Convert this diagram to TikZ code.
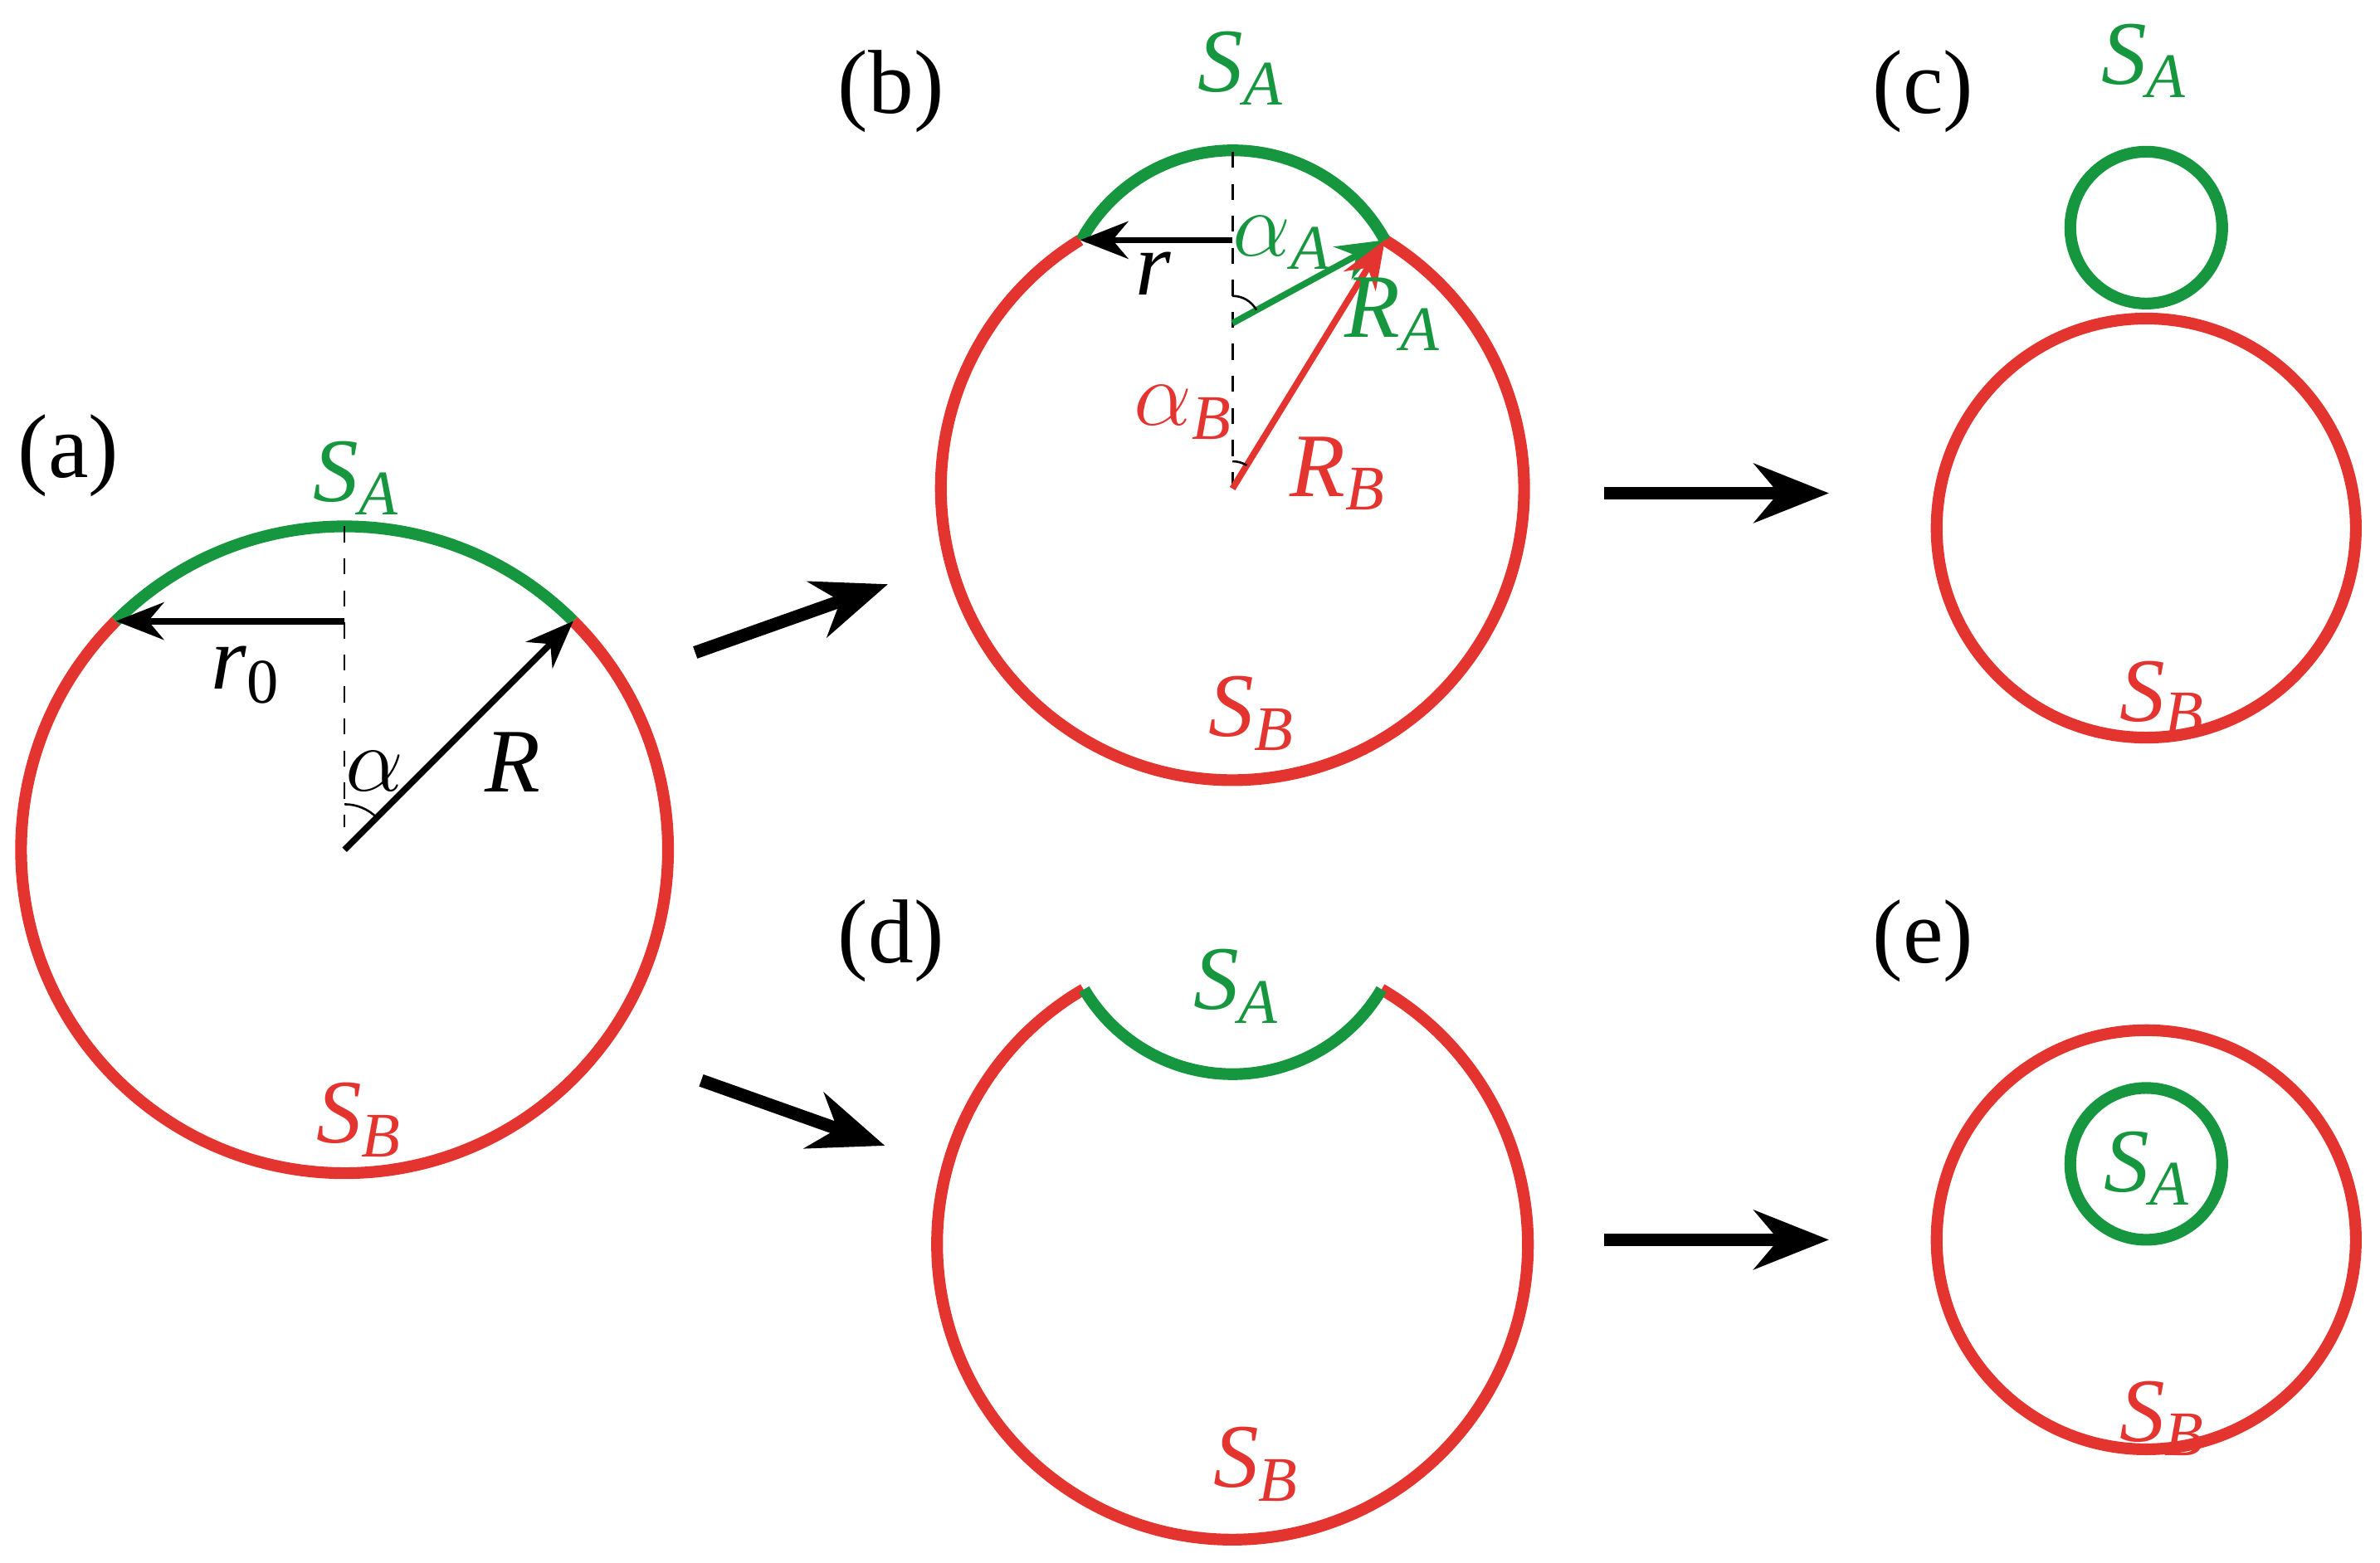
\documentclass[tikz,border=0pt]{standalone}
\usepackage{fontspec}
\setmainfont{Liberation Serif}
\usetikzlibrary{arrows.meta,calc}
\definecolor{cred}{RGB}{228,52,48}
\definecolor{cgreen}{RGB}{22,150,62}
\newcommand{\sub}[2]{\textit{#1}\textsubscript{\textit{#2}}}
\tikzset{
  rl/.style={cred, line width=2.2pt},
  gl/.style={cgreen, line width=2.2pt},
  lbl/.style={font=\fontsize{17}{20}\selectfont, inner sep=0pt},
  stage/.style={line width=2.4pt, -{Stealth[length=14pt,width=11pt]}},
  axisline/.style={dashed, thin},
  vec/.style={line width=1.2pt, -{Stealth[length=9pt,width=7pt]}}
}
\begin{document}
\begin{tikzpicture}[x=0.01cm,y=0.01cm]
\useasboundingbox (0,0) rectangle (1568,-1030);

% (a)
\coordinate (Oa) at (227,-560);
\coordinate (Pa) at ($(Oa)+(45:2.13cm)$);
\coordinate (Qa) at ($(Oa)+(135:2.13cm)$);
\coordinate (Ta) at ($(Oa)+(90:2.13cm)$);
\draw[rl] (Pa) arc[start angle=45, end angle=-225, radius=2.13cm];
\draw[gl] (Pa) arc[start angle=45, end angle=135, radius=2.13cm];
\draw[axisline] (Ta) -- ($(Oa)+(0,15)$);
\draw[vec] (Ta|-Qa) -- (Qa);
\draw[vec] (Oa) -- (Pa);
\draw ($(Oa)+(0,30)$) arc[start angle=90, end angle=45, radius=0.3cm];
\node[lbl] (la) at (45,-300) {(a)};
\node[lbl, cgreen] (sAa) at (235,-315) {\sub{S}{A}};
\node[lbl, cred] (sBa) at (237,-738) {\sub{S}{B}};
\node[lbl] (r0) at (162,-445) {\textit{r}\textsubscript{0}};
\node[lbl] (alpha) at (247,-508) {$\alpha$};
\node[lbl] (Ra) at (338,-502) {\textit{R}};

% (b)
\coordinate (Ob) at (812,-322);
\coordinate (Cb) at (812,-213);
\coordinate (Pb) at ($(Ob)+(58.5:1.92cm)$);
\coordinate (Qb) at ($(Ob)+(121.5:1.92cm)$);
\draw[rl] (Pb) arc[start angle=58.5, end angle=-238.5, radius=1.92cm];
\draw[gl] (Pb) arc[start angle=28.8, end angle=151.2, radius=1.14cm];
\draw[axisline] (812,-100) -- (Ob);
\draw[vec] (Qb-|Ob) -- (Qb);
\draw[vec, cgreen] (Cb) -- (Pb);
\draw[vec, cred] (Ob) -- (Pb);
\draw ($(Cb)+(0,18)$) arc[start angle=90, end angle=28.8, radius=0.18cm];
\draw ($(Ob)+(0,18)$) arc[start angle=90, end angle=58.5, radius=0.18cm];
\node[lbl] (lb) at (587,-60) {(b)};
\node[lbl, cgreen] (sAb) at (818,-45) {\sub{S}{A}};
\node[lbl, cred] (sBb) at (825,-470) {\sub{S}{B}};
\node[lbl] (rb) at (760,-180) {\textit{r}};
\node[lbl, cgreen] (aA) at (845,-160) {$\alpha$\textsubscript{\textit{A}}};
\node[lbl, cgreen] (RA) at (918,-207) {\sub{R}{A}};
\node[lbl, cred] (aB) at (780,-272) {$\alpha$\textsubscript{\textit{B}}};
\node[lbl, cred] (RB) at (882,-312) {\sub{R}{B}};

% (c)
\draw[gl] (1414,-150) circle[radius=0.5cm];
\draw[rl] (1414,-348) circle[radius=1.38cm];
\node[lbl] (lc) at (1267,-60) {(c)};
\node[lbl, cgreen] (sAc) at (1413,-40) {\sub{S}{A}};
\node[lbl, cred] (sBc) at (1425,-460) {\sub{S}{B}};

% (d)
\coordinate (Od) at (812,-820);
\coordinate (Pd) at ($(Od)+(59.7:1.945cm)$);
\draw[rl] (Pd) arc[start angle=59.7, end angle=-239.7, radius=1.945cm];
\draw[gl] (Pd) arc[start angle=-30.6, end angle=-149.4, radius=1.1375cm];
\node[lbl] (ld) at (587,-620) {(d)};
\node[lbl, cgreen] (sAd) at (815,-650) {\sub{S}{A}};
\node[lbl, cred] (sBd) at (828,-965) {\sub{S}{B}};

% (e)
\draw[rl] (1414,-817) circle[radius=1.38cm];
\draw[gl] (1414,-767) circle[radius=0.5cm];
\node[lbl] (le) at (1267,-620) {(e)};
\node[lbl, cgreen] (sAe) at (1415,-770) {\sub{S}{A}};
\node[lbl, cred] (sBe) at (1425,-935) {\sub{S}{B}};

% stages
\coordinate (s1) at (458,-430); \coordinate (e1) at (585,-385);
\coordinate (s2) at (462,-712); \coordinate (e2) at (583,-755);
\coordinate (s3) at (1057,-325); \coordinate (e3) at (1205,-325);
\coordinate (s4) at (1057,-817); \coordinate (e4) at (1205,-817);
\foreach \i in {1,...,4}
  \draw[stage] (s\i) -- (e\i);
\end{tikzpicture}
\end{document}
